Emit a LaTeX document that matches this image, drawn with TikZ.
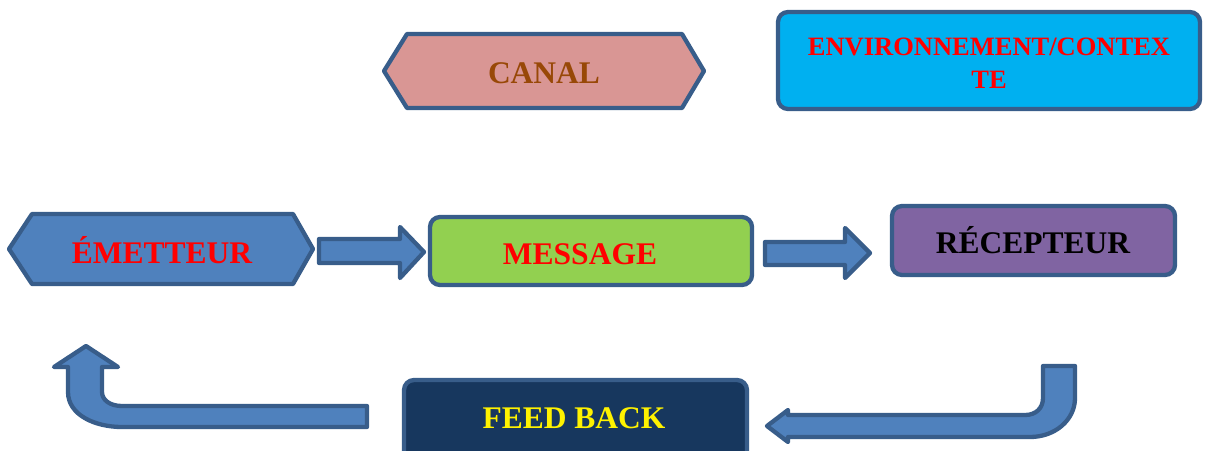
\documentclass[tikz,border=0pt]{standalone}
\usepackage{fontspec}
\setmainfont{Liberation Serif}
\definecolor{bord}{HTML}{385D8A}
\definecolor{arrfill}{HTML}{4F81BD}
\definecolor{canalfill}{HTML}{D99694}
\definecolor{canaltext}{HTML}{984807}
\definecolor{envfill}{HTML}{00B0F0}
\definecolor{msgfill}{HTML}{92D050}
\definecolor{recfill}{HTML}{8064A2}
\definecolor{fbfill}{HTML}{17375E}
\tikzset{
  shp/.style={draw=bord, line width=4.3pt, line join=round},
  rbox/.style={shp, rounded corners=10pt, inner sep=0pt},
  lbl/.style={inner sep=0pt, anchor=base, font=\fontsize{31.5}{36}\selectfont\bfseries},
  envlbl/.style={inner sep=0pt, anchor=base, font=\fontsize{26.5}{33.5}\selectfont\bfseries, align=center},
  blockarrow/.style={shp, fill=arrfill},
}
\begin{document}
\begin{tikzpicture}[x=1pt,y=-1pt]
\useasboundingbox (0,0) rectangle (1206,450);
\clip (0,0) rectangle (1206,450);
% CANAL hexagon
\draw[shp, fill=canalfill] (384,71) -- (407,34) -- (682,34) -- (704,71) -- (682,108) -- (407,108) -- cycle;
\node[lbl, text=canaltext] (canal) at (544,83.5) {CANAL};
% Environnement
\node[rbox, fill=envfill, minimum width=422pt, minimum height=97pt] (envbox) at (989,60.5) {};
\node[envlbl, text=red] (env) at (989,88.5) {ENVIRONNEMENT/CONTEX\\TE};
% Emetteur hexagon
\draw[shp, fill=arrfill] (9,249) -- (32,214) -- (293,214) -- (313,249) -- (293,284) -- (32,284) -- cycle;
\node[lbl, text=red] (emet) at (162,263) {ÉMETTEUR};
% Message
\node[rbox, fill=msgfill, minimum width=322pt, minimum height=68pt] (msgbox) at (591,251) {};
\node[lbl, text=red] (msg) at (580,264) {MESSAGE};
% Recepteur
\node[rbox, fill=recfill, minimum width=283pt, minimum height=69pt] (recbox) at (1033.5,240.5) {};
\node[lbl, text=black] (rec) at (1033,253.5) {RÉCEPTEUR};
% Feed back
\node[rbox, fill=fbfill, minimum width=343pt, minimum height=90pt] (fbbox) at (575.5,425) {};
\node[lbl, text=yellow] (fb) at (574,428) {FEED BACK};
% straight block arrows
\draw[blockarrow] (319,239) -- (400,239) -- (400,227) -- (424,252) -- (400,278) -- (400,263) -- (319,263) -- cycle;
\draw[blockarrow] (765,242) -- (845,242) -- (845,228) -- (870,253) -- (845,278) -- (845,265) -- (765,265) -- cycle;
% left U arrow
\draw[blockarrow] (367,406) -- (122,406) .. controls (110,406) and (102,400) .. (102,392) -- (102,367) -- (118,367) -- (86,346) -- (54,367) -- (68,367) -- (68,392) .. controls (68,415) and (95,427) .. (122,427) -- (367,427) -- cycle;
% right J arrow
\draw[blockarrow] (1043,366) -- (1075,366) -- (1075,398) .. controls (1075,420) and (1055,437) .. (1030,437) -- (788,437) -- (788,442) -- (767,426) -- (788,410) -- (788,415) -- (1025,415) .. controls (1036,415) and (1043,408) .. (1043,398) -- cycle;
\end{tikzpicture}
\end{document}
